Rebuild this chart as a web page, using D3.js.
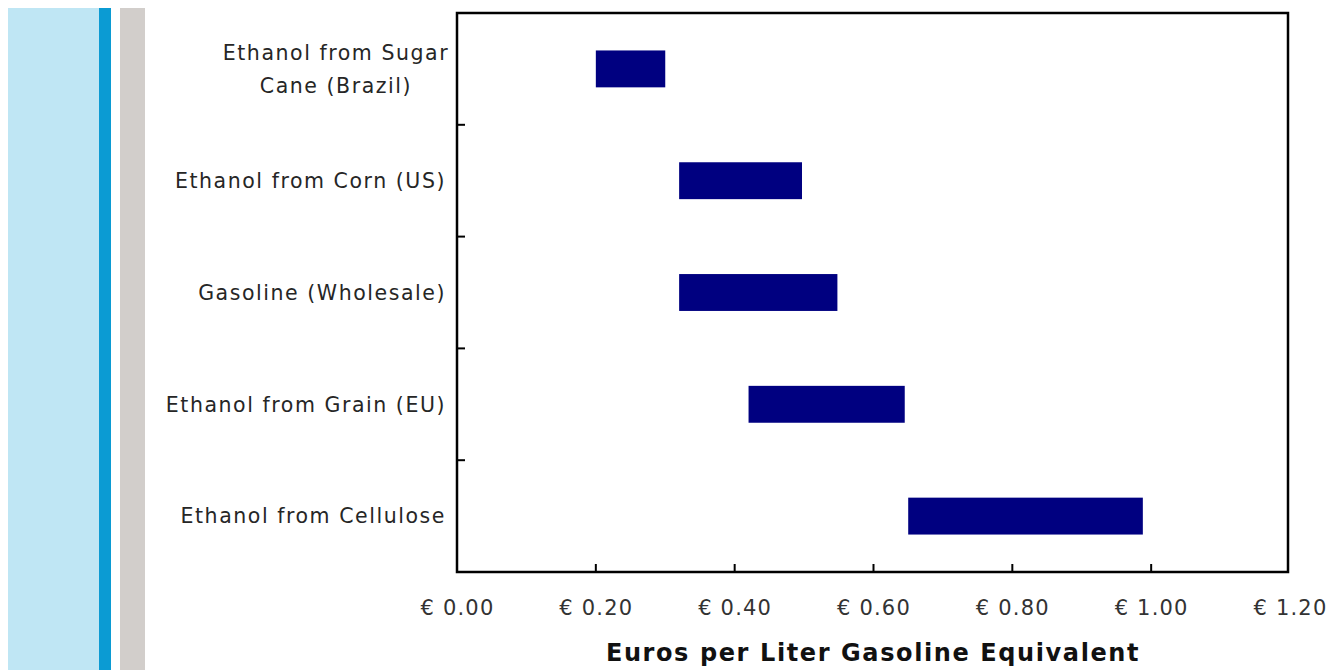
<!DOCTYPE html>
<html>
<head>
<meta charset="utf-8">
<script src="https://cdn.jsdelivr.net/npm/d3@7"></script>
<style>
  html, body { margin: 0; padding: 0; background: #fff; }
  svg { display: block; }
  text { font-family: "DejaVu Sans", Verdana, sans-serif; fill: #262626; }
</style>
</head>
<body>
<script>
const categories = [
  ["Ethanol from Sugar", "Cane (Brazil)"],
  ["Ethanol from Corn (US)"],
  ["Gasoline (Wholesale)"],
  ["Ethanol from Grain (EU)"],
  ["Ethanol from Cellulose"]
];
const lowValues  = [0.20, 0.32, 0.32, 0.42, 0.65];
const highValues = [0.30, 0.497, 0.548, 0.645, 0.988];
const xTicks = [0, 0.2, 0.4, 0.6, 0.8, 1.0, 1.2];
const xTitle = "Euros per Liter Gasoline Equivalent";

(function () {
const W = 1331, H = 670;
const svg = d3.select("body").append("svg").attr("width", W).attr("height", H);

// decorative side stripes
svg.append("rect").attr("x", 8).attr("y", 8).attr("width", 91).attr("height", H - 8).attr("fill", "#bfe6f4");
svg.append("rect").attr("x", 99).attr("y", 8).attr("width", 12).attr("height", H - 8).attr("fill", "#0b9bd3");
svg.append("rect").attr("x", 120).attr("y", 8).attr("width", 25).attr("height", H - 8).attr("fill", "#d2cecb");

const pL = 457, pR = 1290, pT = 13, pB = 572;
const x = d3.scaleLinear().domain([0, 1.2]).range([pL, pR]);
const idx = d3.range(categories.length);
const y = d3.scaleBand().domain(idx).range([pT, pB]).paddingInner(0.67).paddingOuter(0.335);
const yBounds = d3.scaleLinear().domain([0, categories.length]).range([pT, pB]);

// bars
svg.append("g").selectAll("rect").data(idx).join("rect")
  .attr("x", i => x(lowValues[i]))
  .attr("width", i => x(highValues[i]) - x(lowValues[i]))
  .attr("y", i => y(i))
  .attr("height", y.bandwidth())
  .attr("fill", "#000080");

// frame
svg.append("rect").attr("x", pL).attr("y", pT).attr("width", 1288 - pL).attr("height", pB - pT)
  .attr("fill", "none").attr("stroke", "#000").attr("stroke-width", 2.5);

// x tick labels
const xAxis = d3.axisBottom(x).tickValues(xTicks).tickSize(0).tickFormat(d => "€ " + d3.format(".2f")(d));
const gx = svg.append("g").attr("transform", `translate(0,${pB})`).call(xAxis);
gx.select(".domain").remove();
gx.selectAll("text").attr("dy", null).attr("y", 43)
  .style("font-size", "21px").style("letter-spacing", "1.2px").style("fill", "#333")
  .style("font-family", "'DejaVu Sans', Verdana, sans-serif");

// x ticks (inward)
svg.append("g").selectAll("line").data(xTicks.slice(1, -1)).join("line")
  .attr("x1", d => x(d)).attr("x2", d => x(d))
  .attr("y1", pB).attr("y2", pB - 8)
  .attr("stroke", "#000").attr("stroke-width", 2);

// y boundary ticks (inward)
svg.append("g").selectAll("line").data(d3.range(1, categories.length)).join("line")
  .attr("x1", pL).attr("x2", pL + 8)
  .attr("y1", d => yBounds(d)).attr("y2", d => yBounds(d))
  .attr("stroke", "#000").attr("stroke-width", 2);

// category labels
const lab = svg.append("g");
idx.forEach(i => {
  const lines = categories[i];
  const cy = y(i) + y.bandwidth() / 2;
  const lh = 33;
  if (lines.length === 1) {
    lab.append("text").attr("x", 446).attr("y", cy).attr("dy", "0.36em")
      .attr("text-anchor", "end").style("font-size", "20.5px").style("letter-spacing", "1.55px")
      .text(lines[0]);
  } else {
    const t = lab.append("text").attr("text-anchor", "middle")
      .style("font-size", "20.5px").style("letter-spacing", "1.55px");
    lines.forEach((l, k) => {
      t.append("tspan").attr("x", 336).attr("y", cy + (k - (lines.length - 1) / 2) * lh).attr("dy", "0.36em").text(l);
    });
  }
});

// axis title
svg.append("text").attr("x", 873).attr("y", 652).attr("dy", "0.36em")
  .attr("text-anchor", "middle").style("font-size", "24px").style("font-weight", "bold")
  .style("letter-spacing", "1.6px").style("fill", "#111").text(xTitle);
})();
</script>
</body>
</html>
